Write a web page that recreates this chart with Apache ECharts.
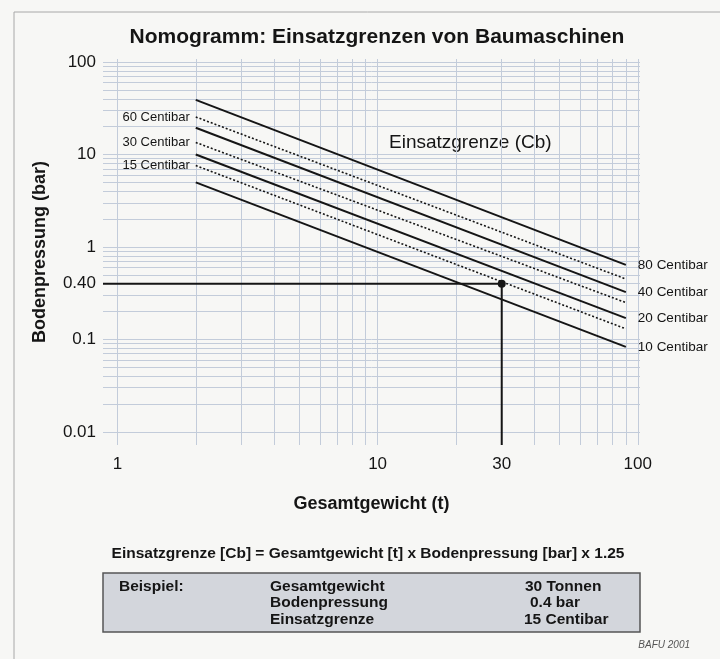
<!DOCTYPE html>
<html>
<head>
<meta charset="utf-8">
<title>Nomogramm: Einsatzgrenzen von Baumaschinen</title>
<script src="https://cdn.jsdelivr.net/npm/echarts@6/dist/echarts.min.js"></script>
<style>
  html, body { margin: 0; padding: 0; background: #f6f6f4; }
  #chart { width: 720px; height: 659px; }
</style>
</head>
<body>
<div id="chart"></div>
<script>
// Gesamtgewicht (t) am Anfang und Ende der Linien
const weightStart = 2
const weightEnd = 90
// Einsatzgrenze (Centibar) je Linie, von oben nach unten
const limits = [80, 60, 40, 30, 20, 15, 10]
// Bodenpressung (bar) am Anfang / Ende jeder Linie, aus dem Bild gelesen
const pressureStart = [39, 25.5, 19.5, 13.5, 10, 7.6, 5.0]
const pressureEnd = [0.64, 0.45, 0.325, 0.25, 0.17, 0.13, 0.083]
const dotted = [false, true, false, true, false, true, false]

// Beispiel: 30 t, 0.4 bar
const exampleWeight = 30
const examplePressure = 0.4

// Achsen
const xMin = 0.88, xMax = 102
const yMin = 0.0072, yMax = 108
const xLabels = [1, 10, 30, 100]
const yLabels = [0.01, 0.1, 1, 10, 100]
const xGrid = [1, 2, 3, 4, 5, 6, 7, 8, 9, 10, 20, 30, 40, 50, 60, 70, 80, 90, 100]
const yGrid = [
  0.01, 0.02, 0.03, 0.04, 0.05, 0.06, 0.07, 0.08, 0.09,
  0.1, 0.2, 0.3, 0.4, 0.5, 0.6, 0.7, 0.8, 0.9,
  1, 2, 3, 4, 5, 6, 7, 8, 9,
  10, 20, 30, 40, 50, 60, 70, 80, 90, 100
]

const font = 'Liberation Sans, Arial, sans-serif'
const ink = '#151515'
const gridColor = '#c3ccda'

const chart = echarts.init(document.getElementById('chart'), null, { renderer: 'canvas' })

const limitSeries = limits.map((cb, i) => {
  const first = { value: [weightStart, pressureStart[i]] }
  if (dotted[i]) {
    first.label = {
      show: true,
      position: 'left',
      distance: 6,
      formatter: cb + ' Centibar',
      color: ink,
      fontFamily: font,
      fontSize: 13
    }
  }
  return {
    name: cb + ' Centibar',
    type: 'line',
    symbol: 'circle',
    symbolSize: 0,
    showSymbol: true,
    silent: true,
    lineStyle: {
      color: ink,
      width: dotted[i] ? 1.6 : 2,
      type: dotted[i] ? [2, 2] : 'solid'
    },
    itemStyle: { color: ink },
    endLabel: {
      show: !dotted[i],
      formatter: cb + ' Centibar',
      distance: 12,
      color: ink,
      fontFamily: font,
      fontSize: 13.5
    },
    data: [first, [weightEnd, pressureEnd[i]]]
  }
})

const exampleSeries = {
  name: 'Beispiel',
  type: 'line',
  symbol: 'circle',
  symbolSize: 0,
  showSymbol: true,
  silent: true,
  lineStyle: { color: ink, width: 2 },
  itemStyle: { color: ink },
  data: [
    {
      value: [xMin, examplePressure],
      label: {
        show: true,
        position: 'left',
        distance: 7,
        formatter: '0.40',
        color: ink,
        fontFamily: font,
        fontSize: 17
      }
    },
    { value: [exampleWeight, examplePressure], symbolSize: 8 },
    [exampleWeight, yMin]
  ]
}

chart.setOption({
  animation: false,
  backgroundColor: '#f7f7f5',
  title: {
    text: 'Nomogramm: Einsatzgrenzen von Baumaschinen',
    left: 372,
    top: 22,
    textAlign: 'center',
    textStyle: { fontFamily: font, fontSize: 21, fontWeight: 'bold', color: ink }
  },
  grid: { left: 103, right: 80, top: 59, bottom: 214, containLabel: false },
  xAxis: {
    type: 'log',
    logBase: 10,
    min: xMin,
    max: xMax,
    name: 'Gesamtgewicht (t)',
    nameLocation: 'middle',
    nameGap: 50,
    nameTextStyle: { fontFamily: font, fontSize: 18, fontWeight: 'bold', color: ink },
    axisLine: { show: false },
    axisTick: { show: false, customValues: xGrid },
    axisLabel: {
      customValues: xLabels,
      margin: 11,
      fontFamily: font,
      fontSize: 17,
      color: ink
    },
    splitLine: { show: true, lineStyle: { color: gridColor, width: 1 } }
  },
  yAxis: {
    type: 'log',
    logBase: 10,
    min: yMin,
    max: yMax,
    name: 'Bodenpressung (bar)',
    nameLocation: 'middle',
    nameGap: 54,
    nameTextStyle: { fontFamily: font, fontSize: 18, fontWeight: 'bold', color: ink },
    axisLine: { show: false },
    axisTick: { show: false, customValues: yGrid },
    axisLabel: {
      customValues: yLabels,
      margin: 7,
      fontFamily: font,
      fontSize: 17,
      color: ink
    },
    splitLine: { show: true, lineStyle: { color: gridColor, width: 1 } }
  },
  series: [...limitSeries, exampleSeries],
  graphic: [
    {
      type: 'rect',
      silent: true,
      shape: { x: 14, y: 12, width: 730, height: 680 },
      style: { fill: 'none', stroke: '#a8a8a8', lineWidth: 1 }
    },
    {
      type: 'text',
      x: 389,
      y: 143,
      style: {
        text: 'Einsatzgrenze (Cb)',
        fill: ink,
        font: '19px ' + font,
        verticalAlign: 'middle'
      }
    },
    {
      type: 'text',
      x: 368,
      y: 554,
      style: {
        text: 'Einsatzgrenze [Cb] = Gesamtgewicht [t] x Bodenpressung [bar] x 1.25',
        fill: ink,
        font: 'bold 15.5px ' + font,
        align: 'center',
        verticalAlign: 'middle'
      }
    },
    {
      type: 'rect',
      silent: true,
      shape: { x: 103, y: 573, width: 537, height: 59 },
      style: { fill: '#d3d6dc', stroke: '#555', lineWidth: 1.5 }
    },
    {
      type: 'text', x: 119, y: 587,
      style: { text: 'Beispiel:', fill: ink, font: 'bold 15.5px ' + font, verticalAlign: 'middle' }
    },
    {
      type: 'text', x: 270, y: 587,
      style: { text: 'Gesamtgewicht', fill: ink, font: 'bold 15.5px ' + font, verticalAlign: 'middle' }
    },
    {
      type: 'text', x: 270, y: 603,
      style: { text: 'Bodenpressung', fill: ink, font: 'bold 15.5px ' + font, verticalAlign: 'middle' }
    },
    {
      type: 'text', x: 270, y: 620,
      style: { text: 'Einsatzgrenze', fill: ink, font: 'bold 15.5px ' + font, verticalAlign: 'middle' }
    },
    {
      type: 'text', x: 525, y: 587,
      style: { text: '30 Tonnen', fill: ink, font: 'bold 15.5px ' + font, verticalAlign: 'middle' }
    },
    {
      type: 'text', x: 530, y: 603,
      style: { text: '0.4 bar', fill: ink, font: 'bold 15.5px ' + font, verticalAlign: 'middle' }
    },
    {
      type: 'text', x: 524, y: 620,
      style: { text: '15 Centibar', fill: ink, font: 'bold 15.5px ' + font, verticalAlign: 'middle' }
    },
    {
      type: 'text', x: 690, y: 645,
      style: { text: 'BAFU 2001', fill: '#555', font: 'italic 10px ' + font, align: 'right', verticalAlign: 'middle' }
    }
  ]
})
</script>
</body>
</html>
